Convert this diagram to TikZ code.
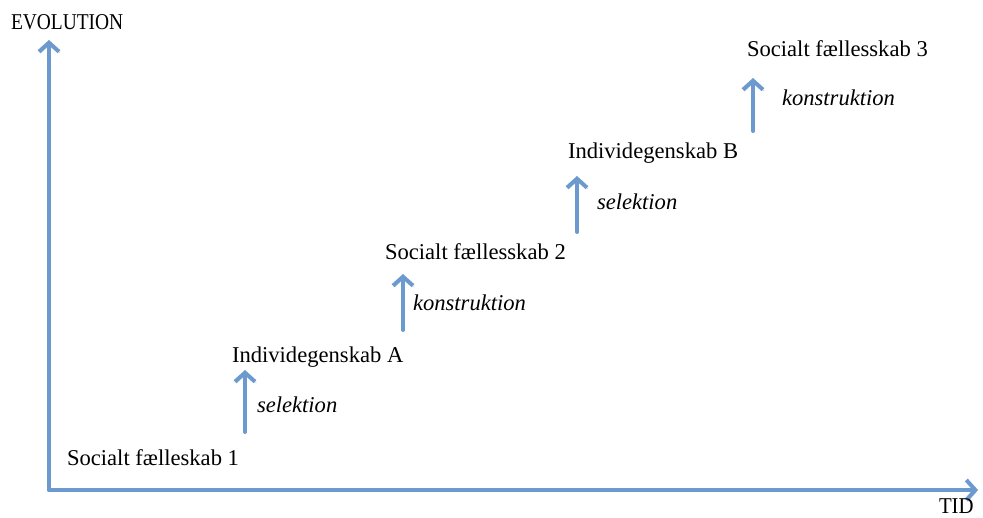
\documentclass[tikz,border=0pt]{standalone}
\usepackage{fontspec}
\setmainfont{Liberation Serif}
\usetikzlibrary{arrows.meta}
\definecolor{arrowblue}{RGB}{108,153,206}
\tikzset{
  lbl/.style={anchor=base west, inner sep=0pt, outer sep=0pt, font=\fontsize{22.6}{27}\selectfont},
  ilbl/.style={lbl, font=\fontsize{22.6}{27}\selectfont\itshape},
  shadowed/.style={preaction={draw=black, opacity=0.18, transform canvas={shift={(1.5pt,-1.5pt)}}}},
  bluearrow/.style={draw=arrowblue, line width=4pt, line cap=round, line join=round,
     -{Straight Barb[length=9pt,width=20pt,line width=4pt]}, shadowed},
}
\begin{document}
\begin{tikzpicture}[x=1pt,y=-1pt]
\useasboundingbox (0,0) rectangle (983,518);
% axes
\coordinate (O) at (49,490);
\coordinate (ytip) at (49,40);
\coordinate (xtip) at (978,490);
\draw[bluearrow] (O) -- (ytip);
\draw[bluearrow] (O) -- (xtip);
\node[lbl] (evo) at (11,30) {\scalebox{0.86}[1]{EVOLUTION}};
\node[lbl] (tid) at (939,513) {\scalebox{0.92}[1]{TID}};
% labels
\node[lbl] (s1) at (67,465) {Socialt fælleskab 1};
\node[lbl] (iA) at (232,363) {Individegenskab A};
\node[ilbl] (sel1) at (257,413) {selektion};
\node[lbl] (s2) at (385,260) {Socialt fællesskab 2};
\node[ilbl] (kon1) at (413,311) {konstruktion};
\node[lbl] (iB) at (568,159) {Individegenskab B};
\node[ilbl] (sel2) at (597,210) {selektion};
\node[lbl] (s3) at (747,57) {Socialt fællesskab 3};
\node[ilbl] (kon2) at (782,106) {konstruktion};
% step arrows
\coordinate (a1s) at (245,432); \coordinate (a1e) at (245,370);
\coordinate (a2s) at (403,330); \coordinate (a2e) at (403,274);
\coordinate (a3s) at (577,232); \coordinate (a3e) at (577,176);
\coordinate (a4s) at (753,131); \coordinate (a4e) at (753,78);
\draw[bluearrow] (a1s) -- (a1e);
\draw[bluearrow] (a2s) -- (a2e);
\draw[bluearrow] (a3s) -- (a3e);
\draw[bluearrow] (a4s) -- (a4e);
\end{tikzpicture}
\end{document}
